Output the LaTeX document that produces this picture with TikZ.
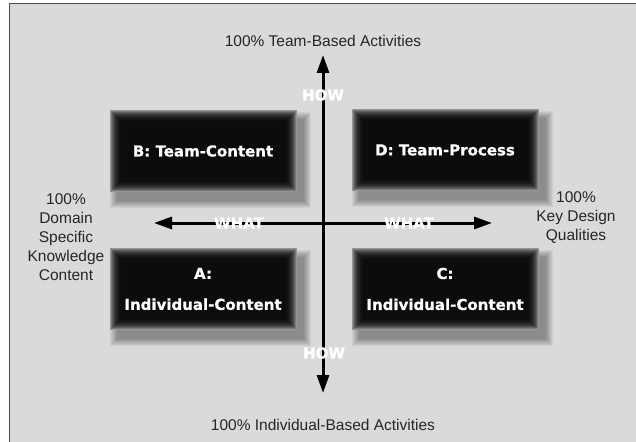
\documentclass[tikz,border=0pt]{standalone}
\usepackage{fontspec}
\setmainfont{Liberation Sans}
\newfontfamily\heavyfont{DejaVu Sans}[FakeBold=0.8]
\usetikzlibrary{arrows.meta}
\definecolor{panelgray}{RGB}{217,218,220}
\definecolor{edgegray}{RGB}{150,150,150}
\tikzset{
  axis/.style={line width=3pt,
    {Triangle[length=18pt,width=12pt]}-{Triangle[length=18pt,width=12pt]}},
  quadtext/.style={text=white, align=center,
    font=\heavyfont\bfseries\fontsize{15}{18}\selectfont},
  axistag/.style={text=white, inner sep=0pt,
    font=\heavyfont\bfseries\fontsize{15}{18}\selectfont},
  poletext/.style={text=black!85, align=center,
    font=\fontsize{15.5}{19}\selectfont},
}
\begin{document}
\begin{tikzpicture}[x=1pt,y=-1pt]
  \useasboundingbox (0,0) rectangle (636,441);
  \clip (0,0) rectangle (636,441);
  \fill[white] (0,0) rectangle (636,441);
  \filldraw[fill=panelgray, draw=black!70, line width=1pt] (9,4) rectangle (660,460);
  % blurred black boxes with drop shadow
  \foreach \bx/\by in {110/110,352/109,110/248,352/248} {
    \foreach \i in {0,...,7}
      \fill[black, opacity=0.05] (\bx+7-\i,\by+9-\i) rectangle (\bx+194+\i,\by+91+\i);
    \fill[edgegray] (\bx,\by) rectangle (\bx+187,\by+82);
    \foreach \i in {1,...,11}
      \fill[black, opacity=0.2] (\bx+\i,\by+\i) rectangle (\bx+187-\i,\by+82-\i);
  }
  \coordinate (top) at (323,55);
  \coordinate (bottom) at (323,393);
  \coordinate (left) at (154,223);
  \coordinate (right) at (492,223);
  \begin{scope}
    \draw[axis] (bottom) to (top);
    \draw[axis] (left) to (right);
  \end{scope}
  \node[quadtext] (B) at (203,151) {B: Team-Content};
  \node[quadtext] (D) at (445,150) {D: Team-Process};
  \node[quadtext] (A) at (203,289) {A:\\[13pt]Individual-Content};
  \node[quadtext] (C) at (445,289) {C:\\[13pt]Individual-Content};
  \node[axistag] (howtop) at (323,95) {HOW};
  \node[axistag] (howbot) at (324,353) {HOW};
  \node[axistag] (whatl) at (239,223) {WHAT};
  \node[axistag] (whatr) at (409,223) {WHAT};
  \node[poletext] (team) at (323,41) {100\% Team-Based Activities};
  \node[poletext] (indiv) at (323,425) {100\% Individual-Based Activities};
  \node[poletext] (domain) at (66,237) {100\%\\Domain\\Specific\\Knowledge\\Content};
  \node[poletext] (design) at (576,218) {100\%\\Key Design\\Qualities};
\end{tikzpicture}
\end{document}
